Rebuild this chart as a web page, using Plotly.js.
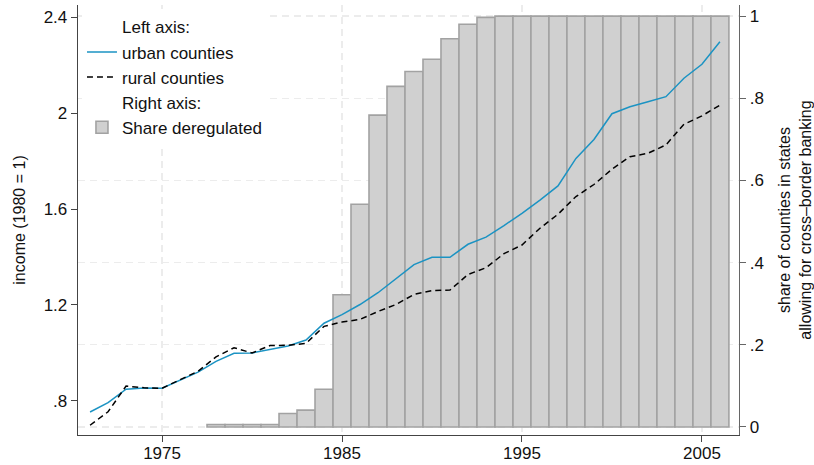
<!DOCTYPE html>
<html>
<head>
<meta charset="utf-8">
<script src="https://cdn.plot.ly/plotly-3.0.1.min.js"></script>
<style>
  html, body { margin: 0; padding: 0; background: #fff; }
  #chart { width: 814px; height: 465px; }
</style>
</head>
<body>
<div id="chart"></div>
<script>
// Income index (1980 = 1) for urban and rural counties
const years = [1971, 1972, 1973, 1974, 1975, 1976, 1977, 1978, 1979, 1980,
               1981, 1982, 1983, 1984, 1985, 1986, 1987, 1988, 1989, 1990,
               1991, 1992, 1993, 1994, 1995, 1996, 1997, 1998, 1999, 2000,
               2001, 2002, 2003, 2004, 2005, 2006];
const urbanIncome = [0.754, 0.793, 0.849, 0.854, 0.853, 0.888, 0.920, 0.965, 0.999, 1.000,
                     1.016, 1.029, 1.054, 1.124, 1.160, 1.202, 1.251, 1.310, 1.368, 1.399,
                     1.399, 1.453, 1.483, 1.531, 1.582, 1.637, 1.696, 1.811, 1.890, 1.997,
                     2.026, 2.047, 2.068, 2.145, 2.203, 2.297];
const ruralIncome = [0.699, 0.755, 0.862, 0.855, 0.853, 0.890, 0.924, 0.984, 1.022, 1.000,
                     1.031, 1.032, 1.040, 1.111, 1.129, 1.140, 1.173, 1.202, 1.244, 1.260,
                     1.262, 1.327, 1.355, 1.414, 1.450, 1.520, 1.578, 1.652, 1.702, 1.766,
                     1.818, 1.832, 1.867, 1.953, 1.988, 2.033];

// Share of counties in states allowing cross-border banking
const dereg_years = [1978, 1979, 1980, 1981, 1982, 1983, 1984, 1985, 1986, 1987,
                     1988, 1989, 1990, 1991, 1992, 1993, 1994, 1995, 1996, 1997,
                     1998, 1999, 2000, 2001, 2002, 2003, 2004, 2005, 2006];
const shareDeregulated = [0.006, 0.006, 0.006, 0.006, 0.033, 0.041, 0.092, 0.322, 0.542, 0.759,
                          0.829, 0.865, 0.895, 0.945, 0.980, 0.997, 1, 1, 1, 1,
                          1, 1, 1, 1, 1, 1, 1, 1, 1];

// Axis ticks
const xTicks = [1975, 1985, 1995, 2005];
const leftTickVals = [0.8, 1.2, 1.6, 2.0, 2.4];
const leftTickText = ['.8', '1.2', '1.6', '2', '2.4'];
const rightTickVals = [0, 0.2, 0.4, 0.6, 0.8, 1];
const rightTickText = ['0', '.2', '.4', '.6', '.8', '1'];

const FONT = 'Liberation Sans, Arial, Helvetica, sans-serif';

const traces = [
  {
    type: 'bar', x: dereg_years, y: shareDeregulated, yaxis: 'y',
    name: 'Share deregulated', width: 1,
    marker: { color: '#d0d0d0', line: { color: '#a2a2a2', width: 1.6 } },
    legendrank: 5, hoverinfo: 'x+y'
  },
  {
    type: 'scatter', mode: 'lines', x: [null], y: [null], yaxis: 'y2',
    name: 'Left axis:', line: { width: 0, color: 'rgba(0,0,0,0)' },
    legendrank: 1, hoverinfo: 'skip'
  },
  {
    type: 'scatter', mode: 'lines', x: years, y: urbanIncome, yaxis: 'y2',
    name: 'urban counties', line: { color: '#1b93c3', width: 1.5 },
    legendrank: 2
  },
  {
    type: 'scatter', mode: 'lines', x: years, y: ruralIncome, yaxis: 'y2',
    name: 'rural counties', line: { color: '#000000', width: 1.5, dash: '6px,4px' },
    legendrank: 3
  },
  {
    type: 'scatter', mode: 'lines', x: [null], y: [null], yaxis: 'y2',
    name: 'Right axis:', line: { width: 0, color: 'rgba(0,0,0,0)' },
    legendrank: 4, hoverinfo: 'skip'
  }
];

const layout = {
  width: 814, height: 465,
  margin: { l: 78, r: 75, t: 5, b: 30 },
  paper_bgcolor: '#ffffff', plot_bgcolor: '#ffffff',
  font: { family: FONT, size: 17, color: '#111' },
  bargap: 0,
  showlegend: true,
  legend: {
    x: 0.006, y: 0.99, xanchor: 'left', yanchor: 'top',
    bgcolor: '#ffffff', borderwidth: 0,
    font: { family: FONT, size: 17, color: '#111' },
    tracegroupgap: 0, itemwidth: 30
  },
  xaxis: {
    range: [1970.33, 2007.06],
    tickvals: xTicks, ticktext: xTicks.map(String),
    ticks: 'outside', ticklen: 6, tickcolor: '#444', tickwidth: 1,
    ticklabelstandoff: -4,
    showline: true, linecolor: '#444', linewidth: 1.3,
    showgrid: true, gridcolor: '#ececec', gridwidth: 1.3, griddash: '7px,5px',
    zeroline: false, tickfont: { size: 17 }
  },
  yaxis: {
    side: 'right', range: [-0.0195, 1.027],
    tickvals: rightTickVals, ticktext: rightTickText,
    ticks: 'outside', ticklen: 6, tickcolor: '#666', tickwidth: 1,
    showline: true, linecolor: '#666', linewidth: 1.3,
    showgrid: true, gridcolor: '#ececec', gridwidth: 1.3, griddash: '7px,5px',
    zeroline: false, tickfont: { size: 17 },
    title: {
      text: 'share of counties in states<br>allowing for cross\u2013border banking',
      font: { size: 16 }, standoff: 22
    }
  },
  yaxis2: {
    overlaying: 'y', side: 'left', range: [0.6583, 2.45],
    tickvals: leftTickVals, ticktext: leftTickText,
    ticks: 'outside', ticklen: 6, tickcolor: '#444', tickwidth: 1,
    showline: true, linecolor: '#444', linewidth: 1.3,
    showgrid: false, zeroline: false, tickfont: { size: 17 },
    title: { text: 'income (1980 = 1)', font: { size: 16 }, standoff: 14 }
  }
};

Plotly.newPlot('chart', traces, layout, { displayModeBar: false, staticPlot: true });
</script>
</body>
</html>
